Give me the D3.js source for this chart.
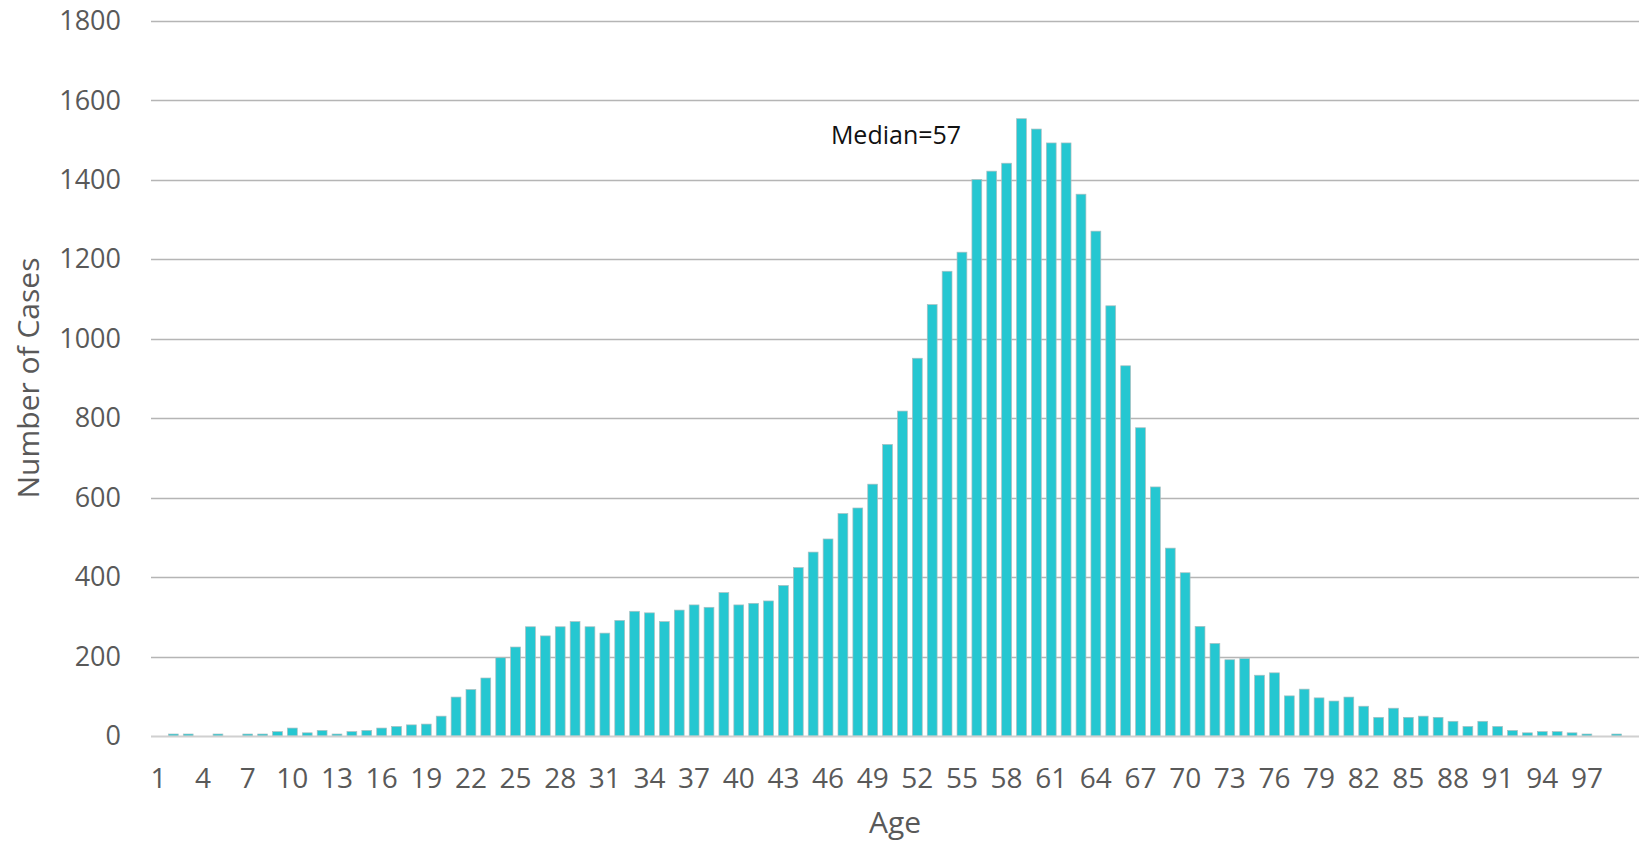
<!DOCTYPE html>
<html>
<head>
<meta charset="utf-8">
<script src="https://cdn.jsdelivr.net/npm/d3@7"></script>
<style>
  html, body { margin: 0; padding: 0; background: #ffffff; }
  svg { display: block; }
</style>
</head>
<body>
<svg id="chart" width="1652" height="846"></svg>
<script>
// Ages (one category per year of age)
const ages = [
  1, 2, 3, 4, 5, 6, 7, 8, 9, 10,
  11, 12, 13, 14, 15, 16, 17, 18, 19, 20,
  21, 22, 23, 24, 25, 26, 27, 28, 29, 30,
  31, 32, 33, 34, 35, 36, 37, 38, 39, 40,
  41, 42, 43, 44, 45, 46, 47, 48, 49, 50,
  51, 52, 53, 54, 55, 56, 57, 58, 59, 60,
  61, 62, 63, 64, 65, 66, 67, 68, 69, 70,
  71, 72, 73, 74, 75, 76, 77, 78, 79, 80,
  81, 82, 83, 84, 85, 86, 87, 88, 89, 90,
  91, 92, 93, 94, 95, 96, 97, 98, 99, 100
];

// Number of cases for each age
const cases = [
  0, 5, 5, 0, 5, 0, 5, 5, 11, 20,
  8, 14, 5, 11, 14, 20, 24, 28, 30, 50,
  98, 117, 146, 197, 224, 275, 252, 275, 288, 275,
  259, 291, 314, 310, 288, 317, 330, 324, 361, 330,
  334, 340, 379, 424, 463, 496, 560, 574, 634, 734,
  818, 951, 1086, 1170, 1218, 1401, 1422, 1442, 1554, 1528,
  1493, 1493, 1364, 1271, 1083, 932, 776, 627, 473, 411,
  276, 233, 192, 195, 153, 159, 101, 118, 96, 88,
  98, 75, 47, 70, 47, 50, 47, 37, 24, 37,
  24, 14, 8, 11, 11, 8, 5, 0, 5, 0
];

// Axis tick labels
const xTickLabels = [1, 4, 7, 10, 13, 16, 19, 22, 25, 28, 31, 34, 37, 40, 43, 46, 49,
                     52, 55, 58, 61, 64, 67, 70, 73, 76, 79, 82, 85, 88, 91, 94, 97];
const yTickValues = [0, 200, 400, 600, 800, 1000, 1200, 1400, 1600, 1800];

// Titles and note
const xTitle = "Age";
const yTitle = "Number of Cases";
const medianNote = { text: "Median=57", value: 1490 };

const data = ages.map((a, i) => ({ age: a, value: cases[i] }));

const svg = d3.select("#chart");
const margin = { left: 151, right: 13, top: 21, bottom: 110 };
const W = 1652, H = 846;
const plotW = W - margin.left - margin.right;
const plotH = H - margin.top - margin.bottom;

const x = d3.scaleBand()
  .domain(ages)
  .range([margin.left, margin.left + plotW])
  .paddingInner(0.34)
  .paddingOuter(0.17);

const y = d3.scaleLinear()
  .domain([0, 1800])
  .range([margin.top + plotH, margin.top]);

const font = "'Open Sans', 'Noto Sans', sans-serif";
const axisGrey = "#595959";

// Horizontal gridlines
svg.append("g")
  .selectAll("line")
  .data(yTickValues.filter(v => v > 0))
  .join("line")
  .attr("x1", margin.left)
  .attr("x2", margin.left + plotW)
  .attr("y1", d => Math.round(y(d)) + 0.5)
  .attr("y2", d => Math.round(y(d)) + 0.5)
  .attr("stroke", "#b5b5b5")
  .attr("stroke-width", 1.4);

// Bars
svg.append("g")
  .selectAll("rect")
  .data(data.filter(d => d.value > 0))
  .join("rect")
  .attr("x", d => x(d.age))
  .attr("width", x.bandwidth())
  .attr("y", d => y(d.value))
  .attr("height", d => y(0) - y(d.value))
  .attr("fill", "#25c7d1")
  .attr("stroke", "#a9bfc1")
  .attr("stroke-width", 0.7);

// Category axis line
svg.append("line")
  .attr("x1", margin.left)
  .attr("x2", margin.left + plotW)
  .attr("y1", y(0) + 0.5)
  .attr("y2", y(0) + 0.5)
  .attr("stroke", "#d0d0d0")
  .attr("stroke-width", 2);

// Y axis labels
const yAxis = d3.axisLeft(y).tickValues(yTickValues).tickFormat(d3.format("d"))
  .tickSize(0).tickPadding(0);
const gy = svg.append("g")
  .attr("transform", `translate(${margin.left - 30},0)`)
  .call(yAxis);
gy.select(".domain").remove();
gy.selectAll("text")
  .attr("font-family", font)
  .attr("font-size", 27)
  .attr("fill", axisGrey);

// X axis labels
const xAxis = d3.axisBottom(x).tickValues(xTickLabels).tickSize(0).tickPadding(0);
const gx = svg.append("g")
  .attr("transform", `translate(0,${y(0) + 32})`)
  .call(xAxis);
gx.select(".domain").remove();
gx.selectAll("text")
  .attr("font-family", font)
  .attr("font-size", 28)
  .attr("fill", axisGrey);

// Axis titles
svg.append("text")
  .attr("x", margin.left + plotW / 2)
  .attr("y", 833)
  .attr("text-anchor", "middle")
  .attr("font-family", font)
  .attr("font-size", 30)
  .attr("fill", axisGrey)
  .text(xTitle);

svg.append("text")
  .attr("transform", `translate(39,${378}) rotate(-90)`)
  .attr("text-anchor", "middle")
  .attr("font-family", font)
  .attr("font-size", 30)
  .attr("fill", axisGrey)
  .text(yTitle);

// Median annotation
svg.append("text")
  .attr("x", margin.left + plotW / 2 + 1)
  .attr("y", y(medianNote.value))
  .attr("text-anchor", "middle")
  .attr("font-family", font)
  .attr("font-size", 25)
  .attr("fill", "#111111")
  .text(medianNote.text);
</script>
</body>
</html>
